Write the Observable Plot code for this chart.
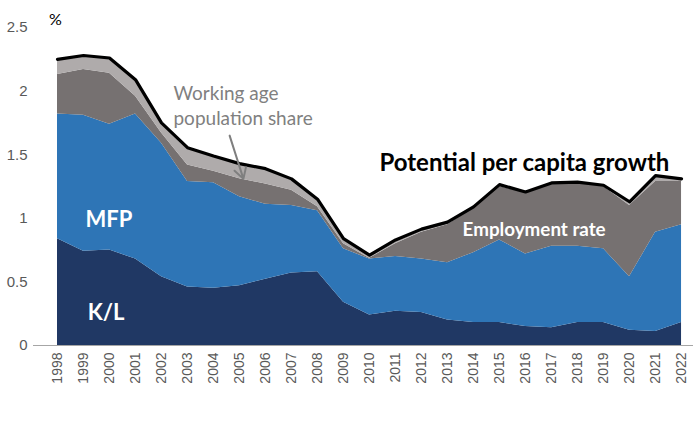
<!DOCTYPE html>
<html>
<head>
<meta charset="utf-8">
<script src="https://cdn.jsdelivr.net/npm/d3@7"></script>
<script src="https://cdn.jsdelivr.net/npm/@observablehq/plot@0.6"></script>
<style>
  body { margin: 0; background: #fff; }
</style>
</head>
<body>
<div id="chart"></div>
<script>
const years = [1998,1999,2000,2001,2002,2003,2004,2005,2006,2007,2008,2009,2010,2011,2012,2013,2014,2015,2016,2017,2018,2019,2020,2021,2022];
const seriesNames = ["K/L", "MFP", "Employment rate", "Working age population share"];
const seriesColors = ["#203864", "#2E75B6", "#767171", "#AFABAB"];

const kl  = [0.84,0.74,0.75,0.68,0.54,0.46,0.45,0.47,0.52,0.57,0.58,0.34,0.24,0.27,0.26,0.20,0.18,0.18,0.15,0.14,0.18,0.18,0.12,0.11,0.18];
const mfp = [0.98,1.07,0.99,1.14,1.05,0.83,0.83,0.70,0.59,0.53,0.48,0.42,0.44,0.43,0.42,0.45,0.55,0.65,0.57,0.64,0.60,0.58,0.42,0.78,0.77];
const emp = [0.31,0.36,0.40,0.14,0.08,0.13,0.09,0.14,0.16,0.12,0.03,0.04,0.005,0.10,0.21,0.30,0.35,0.42,0.48,0.49,0.50,0.49,0.56,0.40,0.34];
const wap = [0.12,0.11,0.12,0.13,0.08,0.135,0.12,0.12,0.12,0.09,0.06,0.04,0.025,0.03,0.025,0.02,0.01,0.015,0.007,0.008,0.005,0.01,0.03,0.045,0.02];

const yTicks = [0, 0.5, 1, 1.5, 2, 2.5];

const seriesValues = [kl, mfp, emp, wap];
const long = [];
seriesNames.forEach((s, j) => years.forEach((yr, i) => long.push({year: yr, series: s, value: seriesValues[j][i]})));
const totals = years.map((yr, i) => ({year: yr, total: kl[i] + mfp[i] + emp[i] + wap[i]}));

const labels = [
  {x: 1997.92, y: 2.57, text: "%", fill: "#000", size: 16, weight: "normal", anchor: "middle"},
  {x: 1999.98, y: 1.0, text: "MFP", fill: "#fff", size: 22, weight: "bold", anchor: "middle"},
  {x: 1999.87, y: 0.27, text: "K/L", fill: "#fff", size: 22, weight: "bold", anchor: "middle"},
  {x: 2013.58, y: 0.92, text: "Employment rate", fill: "#fff", size: 18.8, weight: "bold", anchor: "start"},
  {x: 2010.38, y: 1.45, text: "Potential per capita growth", fill: "#000", size: 24, weight: "bold", anchor: "start"},
  {x: 2002.46, y: 1.895, text: "Working age\npopulation share", fill: "#808080", size: 19, weight: "normal", anchor: "start"}
];

const chart = Plot.plot({
  width: 693,
  height: 422,
  marginLeft: 33,
  marginRight: 0,
  marginTop: 27,
  marginBottom: 77,
  style: {fontFamily: "'Liberation Sans', Arial, sans-serif", background: "#fff"},
  x: {domain: [1997.077, 2022.46]},
  y: {domain: [0, 2.5]},
  color: {domain: seriesNames, range: seriesColors},
  marks: [
    Plot.areaY(long, {x: "year", y: "value", fill: "series", order: seriesNames}),
    Plot.lineY(totals, {x: "year", y: "total", stroke: "#000", strokeWidth: 3.2, strokeLinejoin: "round"}),
    Plot.ruleY([0], {stroke: "#a6a6a6", strokeWidth: 1.2}),
    Plot.axisX(years, {tickFormat: d => String(d), tickRotate: -90, tickSize: 0, tickPadding: 7, fontSize: 14, fill: "#595959", label: null}),
    Plot.axisY(yTicks, {tickFormat: d => String(d), tickSize: 0, tickPadding: 6, fontSize: 15, fill: "#595959", label: null}),
    Plot.arrow([{x1: 2004.62, y1: 1.65, x2: 2005.15, y2: 1.31}], {x1: "x1", y1: "y1", x2: "x2", y2: "y2", stroke: "#7f7f7f", strokeWidth: 2, headLength: 9}),
    ...labels.map(l => Plot.text([l], {x: "x", y: "y", text: "text", fill: l.fill, fontSize: l.size, fontWeight: l.weight, textAnchor: l.anchor, lineHeight: 1.3, fontFamily: "Lato, 'Liberation Sans', sans-serif"}))
  ]
});
document.getElementById("chart").appendChild(chart);
</script>
</body>
</html>
